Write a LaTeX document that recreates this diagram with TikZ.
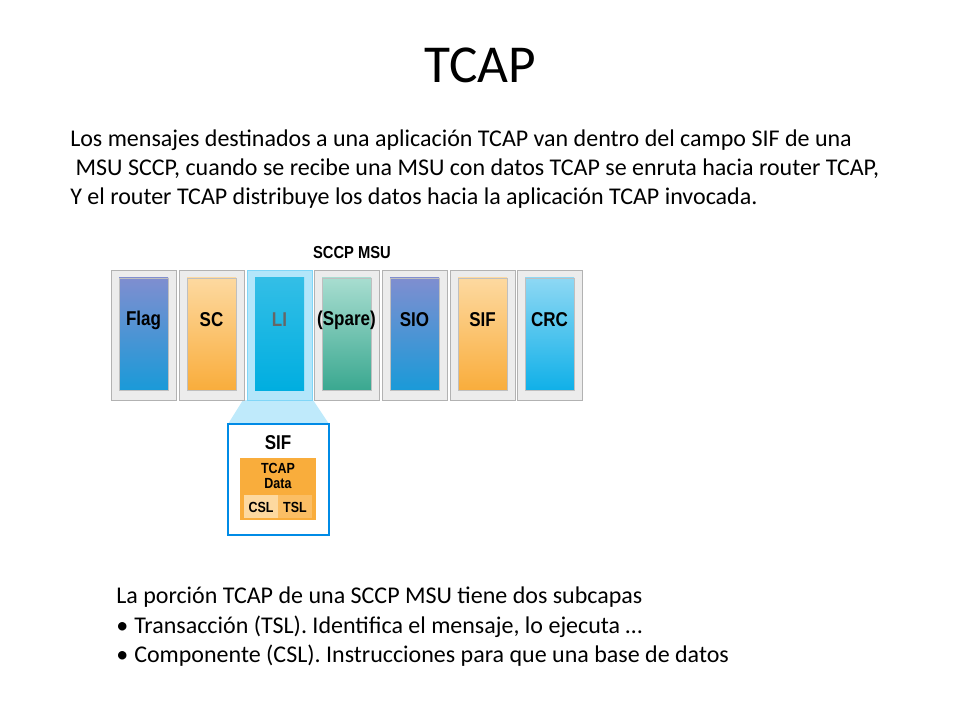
\documentclass[tikz,border=0pt]{standalone}
\usepackage{fontspec}
\setmainfont{Carlito}
\newfontfamily\lab{Liberation Sans}
\definecolor{fpur}{HTML}{7F8ED0}
\definecolor{fblu}{HTML}{1A9AD8}
\definecolor{otop}{HTML}{FDD9A0}
\definecolor{obot}{HTML}{F9AD3C}
\definecolor{ttop}{HTML}{A8DDD0}
\definecolor{tbot}{HTML}{3AA890}
\definecolor{ctop}{HTML}{8ED8F4}
\definecolor{cbot}{HTML}{10B0E8}
\definecolor{lib}{HTML}{00AEE0}
\begin{document}
\begin{tikzpicture}[x=0.75pt,y=-0.75pt,
  body/.style={anchor=base west,inner sep=0,font=\fontsize{18}{21}\selectfont},
  frame/.style={draw=gray!60,fill=gray!15},
  blabel/.style={font=\lab\bfseries\fontsize{15}{17}\selectfont,inner sep=0,xscale=0.85},
  slabel/.style={font=\lab\bfseries\fontsize{11}{11}\selectfont,inner sep=0,xscale=0.85,align=center}]
\useasboundingbox (0,0) rectangle (960,720);
\node[inner sep=0,font=\fontsize{40}{44}\selectfont] (title) at (480,65) {TCAP};
\node[body] (t1) at (70,147) {Los mensajes destinados a una aplicación TCAP van dentro del campo SIF de una};
\node[body] (t2) at (70,176) {\ MSU SCCP, cuando se recibe una MSU con datos TCAP se enruta hacia router TCAP,};
\node[body] (t3) at (70,205) {Y el router TCAP distribuye los datos hacia la aplicación TCAP invocada.};
% trapezoid
\fill[cyan!25] (243,400) -- (313,400) -- (329,424) -- (228,424) -- cycle;
\node[font=\lab\bfseries\fontsize{13}{14}\selectfont,inner sep=0,xscale=0.85] (msu) at (352,253) {SCCP MSU};
\def\blk#1#2#3#4#5{%
  \draw[frame] (#1,270) rectangle ++(65,130);
  \shade[top color=#3,bottom color=#4,draw=gray!50] (#1+8,278) rectangle ++(49,112);
  \node[blabel] (#5) at (#1+32.5,320) {#2};}
\blk{111}{Flag}{fpur}{fblu}{b1}
\blk{179}{SC}{otop}{obot}{b2}
\draw[fill=cyan!30,draw=cyan!50] (247,270) rectangle ++(65,130);
\shade[top color=lib!80,bottom color=lib] (255,278) rectangle ++(49,112);
\node[blabel,text=black!60] (b3) at (279.5,320) {LI};
\blk{314}{(Spare)}{ttop}{tbot}{b4}
\blk{382}{SIO}{fpur}{fblu}{b5}
\blk{450}{SIF}{otop}{obot}{b6}
\blk{517}{CRC}{ctop}{cbot}{b7}
% SIF box
\draw[draw=lib!80!blue,line width=1.5pt,fill=white] (228,424) rectangle (329,535);
\node[font=\lab\bfseries\fontsize{15}{17}\selectfont,inner sep=0,xscale=0.85] (sif) at (278,443) {SIF};
\fill[obot] (240,458) rectangle (316,520);
\node[slabel] (data) at (278,476) {TCAP\\Data};
\fill[otop] (244,495) rectangle (278,518);
\fill[obot!60!otop] (278,495) rectangle (312,518);
\node[slabel] (csl) at (261,507) {CSL};
\node[slabel] (tsl) at (295,507) {TSL};
\node[body] (u1) at (116,603) {La porción TCAP de una SCCP MSU tiene dos subcapas};
\node[body] (u2) at (116,633) {•};
\node[body] (u2t) at (134,633) {Transacción (TSL). Identifica el mensaje, lo ejecuta …};
\node[body] (u3) at (116,662) {•};
\node[body] (u3t) at (134,662) {Componente (CSL). Instrucciones para que una base de datos};
\end{tikzpicture}
\end{document}
